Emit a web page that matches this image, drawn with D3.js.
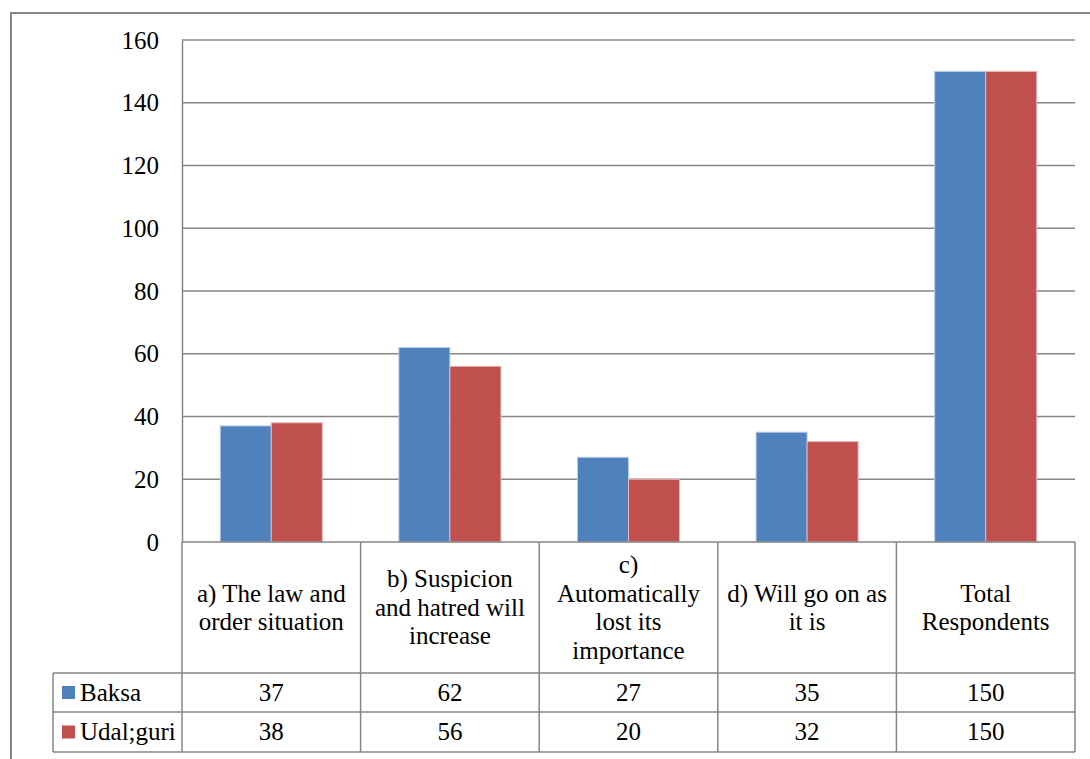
<!DOCTYPE html>
<html>
<head>
<meta charset="utf-8">
<script src="https://cdn.jsdelivr.net/npm/d3@7"></script>
<style>
  html, body { margin: 0; padding: 0; background: #fff; }
  svg { display: block; }
</style>
</head>
<body>
<svg id="chart" width="1090" height="759"></svg>
<script>
// Survey responses by district
const categories = [
  ["a) The law and", "order situation"],
  ["b) Suspicion", "and hatred will", "increase"],
  ["c)", "Automatically", "lost its", "importance"],
  ["d) Will go on as", "it is"],
  ["Total", "Respondents"]
];
const seriesNames = ["Baksa", "Udal;guri"];
const baksa = [37, 62, 27, 35, 150];
const udalguri = [38, 56, 20, 32, 150];
const yTicks = [0, 20, 40, 60, 80, 100, 120, 140, 160];
const seriesColors = ["#4F81BD", "#C0504D"];
const seriesStroke = ["#b9cde5", "#e6b9b8"];

const seriesValues = [baksa, udalguri];
const catKeys = categories.map((c, i) => i);
const FONT = "Liberation Serif, Times New Roman, DejaVu Serif, serif";
const FS = 25;

const svg = d3.select("#chart").attr("font-family", FONT);
const gridColor = "#868686";

const plot = { left: 182, right: 1075, top: 40, bottom: 542 };
const table = { legendLeft: 53, headerBottom: 673, row1Bottom: 712, row2Bottom: 752 };

const y = d3.scaleLinear().domain([0, 160]).range([plot.bottom, plot.top]);
const x0 = d3.scaleBand().domain(catKeys).range([plot.left, plot.right]).padding(0);
const x1 = d3.scaleBand().domain(seriesNames).range([0, x0.bandwidth()])
  .paddingInner(0).paddingOuter(0.75);

// outer chart frame
svg.append("path")
  .attr("d", `M11,759 L11,13 L1090,13`)
  .attr("fill", "none").attr("stroke", gridColor).attr("stroke-width", 2);

// horizontal gridlines
svg.append("g").selectAll("line").data(yTicks.filter(t => t > 0)).join("line")
  .attr("x1", plot.left).attr("x2", plot.right)
  .attr("y1", d => y(d)).attr("y2", d => y(d))
  .attr("stroke", gridColor).attr("stroke-width", 1.5);

// y axis with tick labels
const yAxis = d3.axisLeft(y).tickValues(yTicks).tickSize(0).tickPadding(23);
const gy = svg.append("g").attr("transform", `translate(${plot.left},0)`).call(yAxis)
  .attr("font-family", FONT).attr("font-size", FS);
gy.select(".domain").attr("stroke", gridColor).attr("stroke-width", 1.5);
gy.selectAll("text").attr("font-family", FONT).attr("font-size", FS).attr("fill", "#000");

// bars
const groups = svg.append("g").selectAll("g").data(catKeys).join("g")
  .attr("transform", i => `translate(${x0(i)},0)`);
groups.selectAll("rect")
  .data(i => seriesNames.map((s, k) => ({ s, k, v: seriesValues[k][i] })))
  .join("rect")
  .attr("x", d => x1(d.s))
  .attr("width", x1.bandwidth())
  .attr("y", d => y(d.v))
  .attr("height", d => y(0) - y(d.v))
  .attr("fill", d => seriesColors[d.k])
  .attr("stroke", d => seriesStroke[d.k])
  .attr("stroke-width", 1);

// baseline
svg.append("line")
  .attr("x1", plot.left).attr("x2", plot.right)
  .attr("y1", y(0)).attr("y2", y(0))
  .attr("stroke", gridColor).attr("stroke-width", 1.5);

// data table grid
const tbl = svg.append("g").attr("stroke", gridColor).attr("stroke-width", 1.5);
const bounds = catKeys.map(i => x0(i)).concat([plot.right]);
tbl.selectAll("line.v").data(bounds).join("line")
  .attr("x1", d => d).attr("x2", d => d)
  .attr("y1", plot.bottom).attr("y2", table.row2Bottom);
[table.headerBottom, table.row1Bottom, table.row2Bottom].forEach(yy => {
  tbl.append("line").attr("x1", table.legendLeft).attr("x2", plot.right)
    .attr("y1", yy).attr("y2", yy);
});
tbl.append("line").attr("x1", table.legendLeft).attr("x2", table.legendLeft)
  .attr("y1", table.headerBottom).attr("y2", table.row2Bottom);

// category header text
const lineH = 28.5;
const headerMid = (plot.bottom + table.headerBottom) / 2;
svg.append("g").selectAll("text").data(catKeys).join("text")
  .attr("text-anchor", "middle")
  .attr("font-family", FONT)
  .attr("font-size", FS)
  .each(function(i) {
    const lines = categories[i];
    const t = d3.select(this);
    const start = headerMid - (lines.length - 1) * lineH / 2;
    lines.forEach((ln, j) => {
      t.append("tspan")
        .attr("x", x0(i) + x0.bandwidth() / 2)
        .attr("y", start + j * lineH)
        .attr("dy", "0.33em")
        .text(ln);
    });
  });

// value rows with legend keys
const rowMids = [(table.headerBottom + table.row1Bottom) / 2, (table.row1Bottom + table.row2Bottom) / 2];
seriesNames.forEach((name, k) => {
  const ym = rowMids[k];
  svg.append("rect")
    .attr("x", 62).attr("y", ym - 6.5).attr("width", 13).attr("height", 13)
    .attr("fill", seriesColors[k]);
  svg.append("text")
    .attr("x", 80).attr("y", ym).attr("dy", "0.33em")
    .attr("font-family", FONT)
    .attr("font-size", FS).text(name);
  svg.append("g").selectAll("text").data(catKeys).join("text")
    .attr("x", i => x0(i) + x0.bandwidth() / 2)
    .attr("y", ym).attr("dy", "0.33em")
    .attr("text-anchor", "middle")
    .attr("font-family", FONT).attr("font-size", FS)
    .text(i => seriesValues[k][i]);
});
</script>
</body>
</html>
